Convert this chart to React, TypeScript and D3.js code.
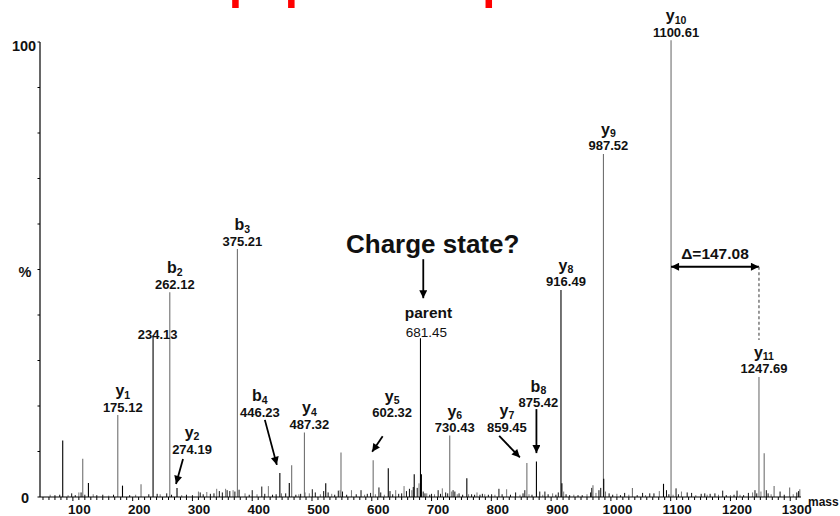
import React from "react";
import * as d3 from "d3";

const W = 840;
const H = 516;

// labelled / major peaks, [m/z, % relative intensity]
const blackPeaks: [number, number][] = [
  [83, 12.4], [126, 3.1], [183, 2.5], [234.13, 35.5], [274.19, 2.0],
  [446.23, 5.3], [462, 3.1], [523, 3.0], [627.6, 6.3], [671, 5.0],
  [681.45, 34.9], [683, 5.0], [759, 4.1], [875.42, 7.8], [916.49, 45.5],
  [918, 3.0], [988, 4.0], [1088, 2.9],
];
const grayPeaks: [number, number][] = [
  [116.5, 8.4], [175.12, 18.0], [214, 2.8], [262.12, 45.0], [375.21, 54.5],
  [466, 7.0], [487.32, 14.2], [548.5, 9.8], [602.32, 8.1], [730.43, 13.5],
  [859.45, 7.5], [970, 2.6], [987.52, 75.4], [1036, 2.0], [1100.61, 100.4],
  [1247.69, 26.4], [1256.4, 9.6], [1273, 2.4], [1299, 2.1], [1316, 1.7],
];
// baseline chemical noise
const noisePeaks: [number, number][] = [
  [62, 0.5], [70, 0.4], [78, 0.5], [92, 0.4], [98, 0.8], [104, 0.4], [110, 1.0], [113.7, 1.0],
  [120, 0.5], [134, 0.6], [140, 0.4], [150, 0.5], [160, 0.3], [168, 0.5], [195, 0.4], [205, 0.5],
  [227, 0.6], [241, 0.7], [246, 0.6], [257, 0.8], [265, 0.5], [282, 0.4], [290, 0.5], [300, 0.4],
  [310, 1.2], [313, 1.0], [318, 0.6], [324, 1.1], [330, 0.7], [336, 0.8], [340.6, 1.8], [345, 1.3],
  [350, 1.0], [355.5, 1.8], [358, 1.5], [362.5, 1.3], [368, 1.5], [371, 1.2], [378, 1.6], [388, 0.8],
  [395, 0.5], [400, 1.5], [408, 0.6], [416, 2.3], [421, 0.7], [427, 2.4], [434, 0.5], [440, 0.6],
  [449, 0.8], [456, 0.8], [473, 0.5], [478, 0.6], [481, 0.7], [488, 1.0], [495.5, 0.8], [500.5, 1.7],
  [505.5, 1.0], [514, 0.6], [519.5, 1.3], [527, 1.0], [533, 0.7], [538, 0.5], [544, 1.4], [547, 1.5],
  [551, 1.2], [558, 0.5], [566, 1.5], [574, 0.6], [582, 1.5], [588, 0.5], [592.5, 0.7], [598, 0.9],
  [606, 0.6], [612, 2.1], [615, 1.0], [621, 0.5], [630.5, 1.3], [635, 0.6], [640, 1.5], [645, 0.7],
  [650, 0.8], [654, 2.4], [658, 1.3], [663, 1.8], [667, 1.5], [669.4, 2.2], [676, 2.0], [679, 3.0],
  [686, 1.2], [689, 0.8], [692, 0.8], [697, 0.5], [700, 0.7], [705, 0.6], [711, 1.5], [715, 0.7],
  [718, 1.9], [723.6, 1.0], [727, 0.8], [733.6, 1.2], [736, 1.5], [739, 1.2], [743, 0.6], [746, 0.8],
  [752, 0.5], [762, 0.6], [767, 0.6], [772, 0.5], [776, 1.0], [781, 0.5], [785, 0.7], [789, 0.6],
  [795, 0.5], [800.5, 0.6], [806, 0.5], [812.7, 1.8], [818, 0.6], [825.6, 1.7], [832, 0.5], [840.6, 1.0],
  [848, 0.5], [853, 0.8], [856, 1.5], [863, 0.6], [868, 0.5], [881, 1.2], [886, 0.5], [889.6, 1.2],
  [895, 0.6], [902.5, 0.8], [908, 0.5], [912, 1.0], [921, 1.2], [925, 0.6], [931, 0.4], [938, 0.5],
  [945, 0.4], [952, 0.4], [960, 0.6], [966, 1.0], [968, 2.0], [975, 0.9], [980, 1.5], [983, 2.0],
  [991, 1.2], [997, 0.8], [1003, 0.5], [1010, 0.7], [1016, 0.4], [1023, 0.9], [1030, 0.5], [1044, 0.4],
  [1053, 0.9], [1058, 0.4], [1065, 0.8], [1072, 0.8], [1081, 1.3], [1093, 1.5], [1097, 0.6], [1104, 0.5],
  [1109, 1.9], [1113, 0.6], [1118, 1.2], [1127.6, 1.0], [1135, 0.9], [1142, 0.4], [1151, 0.7], [1157, 0.8],
  [1161, 0.5], [1166, 0.7], [1174, 0.8], [1180, 0.5], [1187, 1.4], [1193, 0.4], [1200, 0.4], [1206, 0.5],
  [1211, 1.4], [1216, 0.5], [1222, 0.4], [1230, 0.9], [1237, 1.0], [1241, 1.5], [1244, 0.8], [1251, 1.2],
  [1260, 1.5], [1263, 0.8], [1268, 0.6], [1283, 1.2], [1290, 0.5], [1305, 0.6], [1311, 1.0], [1314, 1.3],
];

const ionNames = ["y", "", "b", "y", "b", "b", "y", "y", "parent", "y", "y", "b", "y", "y", "y", "y"];
const ionSubs = ["1", "", "2", "2", "3", "4", "4", "5", "", "6", "7", "8", "8", "9", "10", "11"];
const ionMz = [175.12, 234.13, 262.12, 274.19, 375.21, 446.23, 487.32, 602.32, 681.45, 730.43, 859.45, 875.42, 916.49, 987.52, 1100.61, 1247.69];

const xTicks = [100, 200, 300, 400, 500, 600, 700, 800, 900, 1000, 1100, 1200, 1300];
const deltaFrom = 1100.61;
const deltaTo = 1247.69;
const deltaLabel = "Δ=147.08";
const deltaLevel = 50.6;
const questionText = "Charge state?";
const redMarks = [371.5, 465, 795.3];

// label placement relative to the peak top (px)
type Lay = { dx: number; nameDy: number; mzDy: number; arrow?: [number, number, number, number] };
const defLay: Lay = { dx: 5, nameDy: -19, mzDy: -3.5 };
const layout: Record<string, Lay> = {
  "234.13": { dx: 4.6, nameDy: 0, mzDy: 4 },
  "274.19": { dx: 15, nameDy: -50, mzDy: -34, arrow: [6, -29, -1, -4] },
  "446.23": { dx: -20, nameDy: -71.5, mzDy: -56, arrow: [-15, -53, -3, -8] },
  "602.32": { dx: 19, nameDy: -58.5, mzDy: -43, arrow: [9.5, -24, -1, -8.3] },
  "681.45": { dx: 6, nameDy: -20, mzDy: -1.6 },
  "859.45": { dx: -20, nameDy: -46.5, mzDy: -30.4, arrow: [-27.7, -27, -7, -5.4] },
  "875.42": { dx: 2, nameDy: -70, mzDy: -55, arrow: [0, -52.4, 0, -8.4] },
};

const FONT = "'Liberation Sans', Arial, Helvetica, sans-serif";

export default function App() {
  const x = d3.scaleLinear().domain([45, 1318]).range([40, 801]);
  const y = d3.scaleLinear().domain([0, 100]).range([497, 42]);
  const all = [...blackPeaks, ...grayPeaks];
  const intensity = (mz: number) => (all.find((p) => p[0] === mz) || [mz, 0])[1];
  const minor = d3.range(50, 1320, 10);
  const yMinor = d3.range(0, 101, 10);

  const parentX = x(681.45);
  const parentTop = y(intensity(681.45));
  const x10 = x(deltaFrom);
  const x11 = x(deltaTo);

  return (
    <svg width={W} height={H} style={{ position: "absolute", left: 0, top: 0, background: "#fff" }} fontFamily={FONT}>
      <defs>
        <marker id="ah" viewBox="0 0 10 10" refX="10" refY="5" markerUnits="userSpaceOnUse"
          markerWidth="9" markerHeight="8" orient="auto-start-reverse">
          <path d="M0,0 L10,5 L0,10 z" fill="#000" />
        </marker>
      </defs>

      {redMarks.map((m, i) => (
        <rect key={i} x={x(m) - 3} y={0} width={6.5} height={8} fill="#ff0000" />
      ))}

      {/* noise */}
      {noisePeaks.map(([m, v], i) => (
        <line key={"n" + i} x1={x(m)} x2={x(m)} y1={y(0)} y2={y(v)} stroke={i % 3 === 0 ? "#777" : "#111"} strokeWidth={1} />
      ))}
      {grayPeaks.map(([m, v], i) => (
        <line key={"g" + i} x1={x(m)} x2={x(m)} y1={y(0)} y2={y(v)} stroke="#707070" strokeWidth={1.1} />
      ))}
      {blackPeaks.map(([m, v], i) => (
        <line key={"b" + i} x1={x(m)} x2={x(m)} y1={y(0)} y2={y(v)} stroke="#000" strokeWidth={1.1} />
      ))}

      {/* axes */}
      <line x1={40} x2={40} y1={y(100)} y2={y(0)} stroke="#000" strokeWidth={1.2} />
      {yMinor.map((t) => (
        <line key={t} x1={37.5} x2={40} y1={y(t)} y2={y(t)} stroke="#000" strokeWidth={1} />
      ))}
      <line x1={40} x2={x(1318)} y1={y(0)} y2={y(0)} stroke="#000" strokeWidth={1.2} />
      {minor.map((t) => (
        <line key={t} x1={x(t)} x2={x(t)} y1={y(0)} y2={y(0) + (t % 100 === 0 ? 4 : 3)} stroke="#000" strokeWidth={1} />
      ))}
      {xTicks.map((t) => (
        <text key={t} x={x(t) + 6.5} y={513.5} textAnchor="middle" fontSize={13.5} fontWeight="bold" fill="#111">{t}</text>
      ))}
      <text x={x(1318) + 7} y={506} fontSize={12} fontWeight="bold" fill="#111">mass</text>
      <text x={24} y={y(100) + 8.5} textAnchor="middle" fontSize={14.5} fontWeight="bold" fill="#111">100</text>
      <text x={25} y={y(50) + 7} textAnchor="middle" fontSize={14.5} fontWeight="bold" fill="#111">%</text>
      <text x={25} y={y(0) + 6} textAnchor="middle" fontSize={14.5} fontWeight="bold" fill="#111">0</text>

      {/* peak labels */}
      {ionMz.map((mz, i) => {
        const key = mz.toFixed(2);
        const l = layout[key] || defLay;
        const px = x(mz);
        const top = y(intensity(mz));
        const isParent = ionNames[i] === "parent";
        return (
          <g key={key} fill="#111">
            {ionNames[i] !== "" && (
              <text x={px + l.dx + (isParent ? 2 : 0)} y={top + l.nameDy} textAnchor="middle" fontSize={isParent ? 15.5 : 16} fontWeight="bold">
                {ionNames[i]}
                {ionSubs[i] !== "" && <tspan fontSize={10.5} dy={2.5}>{ionSubs[i]}</tspan>}
              </text>
            )}
            <text x={px + l.dx} y={top + l.mzDy} textAnchor="middle" fontSize={isParent ? 13.5 : 13} fontWeight={isParent ? "normal" : "bold"}>
              {key}
            </text>
            {l.arrow && (
              <line x1={px + l.arrow[0]} y1={top + l.arrow[1]} x2={px + l.arrow[2]} y2={top + l.arrow[3]}
                stroke="#000" strokeWidth={1.8} markerEnd="url(#ah)" />
            )}
          </g>
        );
      })}

      {/* charge state question */}
      <text x={parentX + 12.2} y={parentTop - 85} textAnchor="middle" fontSize={26} fontWeight="bold" fill="#111">{questionText}</text>
      <line x1={parentX + 2.8} x2={parentX + 2.8} y1={parentTop - 79} y2={parentTop - 40} stroke="#000" strokeWidth={1.8} markerEnd="url(#ah)" />

      {/* delta annotation */}
      <line x1={x10} x2={x11} y1={y(deltaLevel)} y2={y(deltaLevel)} stroke="#000" strokeWidth={1.8}
        markerStart="url(#ah)" markerEnd="url(#ah)" />
      <line x1={x11} x2={x11} y1={y(deltaLevel)} y2={y(34.5)} stroke="#555" strokeWidth={1.2} strokeDasharray="3,2.5" />
      <text x={(x10 + x11) / 2} y={y(deltaLevel) - 8} textAnchor="middle" fontSize={15.5} fontWeight="bold" fill="#111">{deltaLabel}</text>
    </svg>
  );
}
